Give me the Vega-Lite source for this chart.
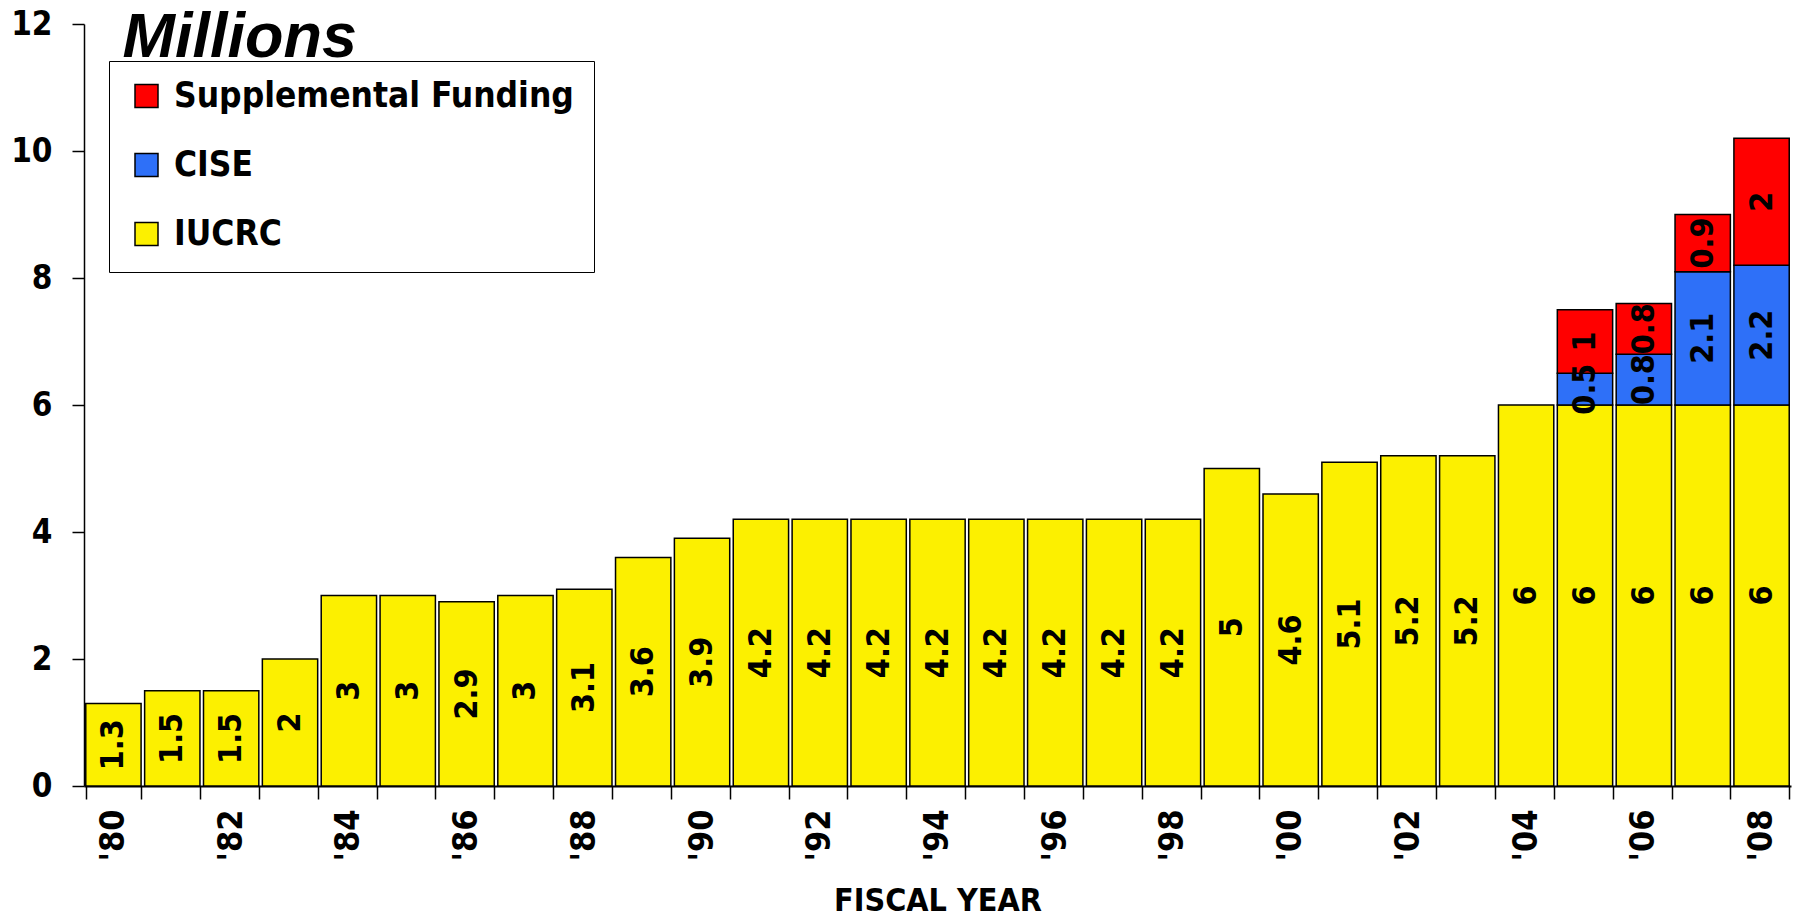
{
  "$schema": "https://vega.github.io/schema/vega-lite/v6.json",
  "width": 1800,
  "height": 920,
  "autosize": {"type": "fit", "contains": "padding"},
  "padding": {"left": 10, "top": 6, "right": 9, "bottom": 3},
  "background": "white",
  "config": {"view": {"stroke": null}},
  "data": {
    "values": [
      {"year": 1980, "series": "IUCRC", "ord": 1, "value": 1.3},
      {"year": 1981, "series": "IUCRC", "ord": 1, "value": 1.5},
      {"year": 1982, "series": "IUCRC", "ord": 1, "value": 1.5},
      {"year": 1983, "series": "IUCRC", "ord": 1, "value": 2},
      {"year": 1984, "series": "IUCRC", "ord": 1, "value": 3},
      {"year": 1985, "series": "IUCRC", "ord": 1, "value": 3},
      {"year": 1986, "series": "IUCRC", "ord": 1, "value": 2.9},
      {"year": 1987, "series": "IUCRC", "ord": 1, "value": 3},
      {"year": 1988, "series": "IUCRC", "ord": 1, "value": 3.1},
      {"year": 1989, "series": "IUCRC", "ord": 1, "value": 3.6},
      {"year": 1990, "series": "IUCRC", "ord": 1, "value": 3.9},
      {"year": 1991, "series": "IUCRC", "ord": 1, "value": 4.2},
      {"year": 1992, "series": "IUCRC", "ord": 1, "value": 4.2},
      {"year": 1993, "series": "IUCRC", "ord": 1, "value": 4.2},
      {"year": 1994, "series": "IUCRC", "ord": 1, "value": 4.2},
      {"year": 1995, "series": "IUCRC", "ord": 1, "value": 4.2},
      {"year": 1996, "series": "IUCRC", "ord": 1, "value": 4.2},
      {"year": 1997, "series": "IUCRC", "ord": 1, "value": 4.2},
      {"year": 1998, "series": "IUCRC", "ord": 1, "value": 4.2},
      {"year": 1999, "series": "IUCRC", "ord": 1, "value": 5},
      {"year": 2000, "series": "IUCRC", "ord": 1, "value": 4.6},
      {"year": 2001, "series": "IUCRC", "ord": 1, "value": 5.1},
      {"year": 2002, "series": "IUCRC", "ord": 1, "value": 5.2},
      {"year": 2003, "series": "IUCRC", "ord": 1, "value": 5.2},
      {"year": 2004, "series": "IUCRC", "ord": 1, "value": 6},
      {"year": 2005, "series": "IUCRC", "ord": 1, "value": 6},
      {"year": 2006, "series": "IUCRC", "ord": 1, "value": 6},
      {"year": 2007, "series": "IUCRC", "ord": 1, "value": 6},
      {"year": 2008, "series": "IUCRC", "ord": 1, "value": 6},
      {"year": 2005, "series": "CISE", "ord": 2, "value": 0.5},
      {"year": 2006, "series": "CISE", "ord": 2, "value": 0.8},
      {"year": 2007, "series": "CISE", "ord": 2, "value": 2.1},
      {"year": 2008, "series": "CISE", "ord": 2, "value": 2.2},
      {"year": 2005, "series": "Supplemental Funding", "ord": 3, "value": 1},
      {"year": 2006, "series": "Supplemental Funding", "ord": 3, "value": 0.8},
      {"year": 2007, "series": "Supplemental Funding", "ord": 3, "value": 0.9},
      {"year": 2008, "series": "Supplemental Funding", "ord": 3, "value": 2}
    ]
  },
  "encoding": {
    "x": {
      "field": "year",
      "type": "ordinal",
      "scale": {"paddingInner": 0.06, "paddingOuter": 0.03},
      "axis": {
        "title": "FISCAL YEAR",
        "titleFont": "DejaVu Sans Condensed",
        "titleFontSize": 32,
        "titleFontWeight": "bold",
        "titleColor": "black",
        "titlePadding": 25,
        "labelExpr": "datum.value % 2 == 0 ? \"'\" + substring(toString(datum.value), 2, 4) : ''",
        "labelAngle": 270,
        "labelFont": "DejaVu Sans Condensed",
        "labelFontSize": 34,
        "labelFontWeight": "bold",
        "labelColor": "black",
        "labelPadding": 10,
        "labelOverlap": false,
        "tickBand": "extent",
        "tickSize": 13,
        "tickColor": "black",
        "tickWidth": 1.5,
        "domainColor": "black",
        "domainWidth": 2
      }
    },
    "y": {
      "field": "value",
      "type": "quantitative",
      "stack": "zero",
      "scale": {"domain": [0, 12], "nice": false},
      "axis": {
        "title": "Millions",
        "titleFont": "Liberation Sans",
        "titleFontSize": 63,
        "titleFontWeight": "bold",
        "titleFontStyle": "italic",
        "titleColor": "black",
        "titleAngle": 0,
        "titleAlign": "left",
        "titleBaseline": "alphabetic",
        "titleX": 38,
        "titleY": 32,
        "values": [0, 2, 4, 6, 8, 10, 12],
        "grid": false,
        "labelFont": "DejaVu Sans Condensed",
        "labelFontSize": 33,
        "labelFontWeight": "bold",
        "labelColor": "black",
        "labelPadding": 20,
        "tickSize": 12,
        "tickColor": "black",
        "tickWidth": 1.5,
        "domainColor": "black",
        "domainWidth": 1.5
      }
    },
    "order": {"field": "ord", "type": "quantitative"}
  },
  "layer": [
    {
      "mark": {"type": "bar", "stroke": "black", "strokeWidth": 1.5},
      "encoding": {
        "color": {
          "field": "series",
          "type": "nominal",
          "scale": {
            "domain": ["Supplemental Funding", "CISE", "IUCRC"],
            "range": ["#FF0000", "#2E70F8", "#FCF000"]
          },
          "legend": {
            "title": null,
            "orient": "none",
            "legendX": 25,
            "legendY": 37,
            "direction": "vertical",
            "symbolType": "square",
            "symbolSize": 529,
            "symbolStrokeColor": "black",
            "symbolStrokeWidth": 1.5,
            "symbolOpacity": 1,
            "labelFont": "DejaVu Sans Condensed",
            "labelFontSize": 35,
            "labelFontWeight": "bold",
            "labelColor": "black",
            "labelLimit": 0,
            "labelOffset": 10,
            "clipHeight": 30,
            "strokeColor": "black",
            "fillColor": "white",
            "padding": 20,
            "rowPadding": 34
          }
        }
      }
    },
    {
      "mark": {
        "type": "text",
        "angle": 270,
        "font": "DejaVu Sans Condensed",
        "fontSize": 32,
        "fontWeight": "bold",
        "color": "black",
        "align": "center",
        "baseline": "middle"
      },
      "encoding": {
        "y": {"field": "value", "type": "quantitative", "stack": "zero", "bandPosition": 0.5},
        "detail": {"field": "series"},
        "text": {"field": "value", "type": "quantitative"}
      }
    }
  ]
}
